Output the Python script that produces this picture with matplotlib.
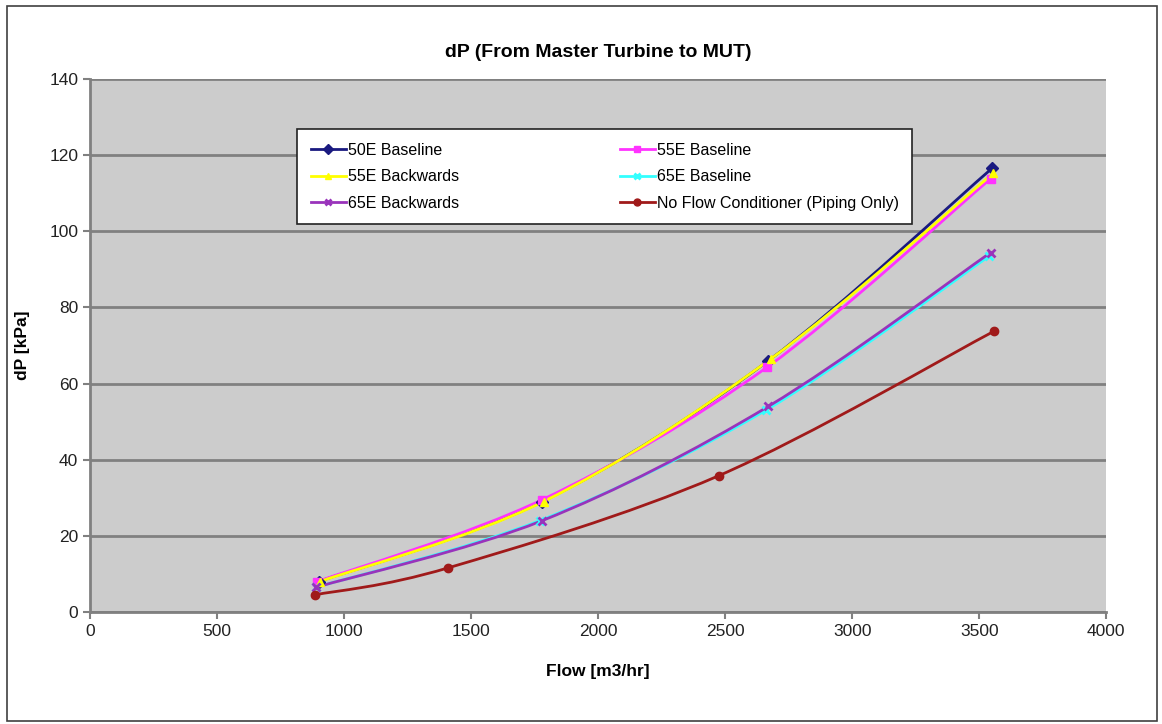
import numpy as np
import matplotlib
matplotlib.use("Agg")
import matplotlib.pyplot as plt
from matplotlib.path import Path
from matplotlib.patches import PathPatch, Rectangle

plt.rcParams['font.family'] = ['Liberation Sans', 'DejaVu Sans']

# data
series_names = ["50E Baseline", "55E Baseline", "55E Backwards", "65E Baseline",
                "65E Backwards", "No Flow Conditioner (Piping Only)"]
flow_50e_base = [900, 1780, 2670, 3550]
dp_50e_base = [8.0, 29.0, 66.0, 116.5]
flow_55e_base = [895, 1780, 2665, 3545]
dp_55e_base = [8.0, 29.5, 64.3, 113.8]
flow_55e_back = [905, 1785, 2680, 3555]
dp_55e_back = [8.0, 29.0, 66.5, 115.2]
flow_65e_base = [890, 1770, 2660, 3540]
dp_65e_base = [6.5, 24.0, 53.0, 93.5]
flow_65e_back = [890, 1780, 2670, 3545]
dp_65e_back = [6.5, 24.0, 54.0, 94.4]
flow_nofc = [885, 1410, 2475, 3560]
dp_nofc = [4.5, 11.6, 35.8, 73.8]

xs = [flow_50e_base, flow_55e_base, flow_55e_back, flow_65e_base, flow_65e_back, flow_nofc]
ys = [dp_50e_base, dp_55e_base, dp_55e_back, dp_65e_base, dp_65e_back, dp_nofc]
colors = ["#1a1a80", "#ff33ff", "#ffff00", "#33ffff", "#9933bb", "#a01a1a"]
markers = ["D", "s", "^", "x", "x", "o"]


def smooth_path(x, y):
    # excel-style smoothed line: catmull-rom segments as cubic bezier
    x = np.asarray(x, float)
    y = np.asarray(y, float)
    verts = [(x[0], y[0])]
    codes = [Path.MOVETO]
    n = len(x)
    for i in range(n - 1):
        p0 = np.array([x[max(i - 1, 0)], y[max(i - 1, 0)]])
        p1 = np.array([x[i], y[i]])
        p2 = np.array([x[i + 1], y[i + 1]])
        p3 = np.array([x[min(i + 2, n - 1)], y[min(i + 2, n - 1)]])
        c1 = p1 + (p2 - p0) / 6.0
        c2 = p2 - (p3 - p1) / 6.0
        verts += [tuple(c1), tuple(c2), tuple(p2)]
        codes += [Path.CURVE4] * 3
    return Path(verts, codes)


fig = plt.figure(figsize=(11.62, 7.24), dpi=100)
fig.patches.append(Rectangle((0.006, 0.004), 0.99, 0.988, transform=fig.transFigure,
                             fill=False, edgecolor="#404040", linewidth=1.2))
ax = fig.add_axes([0.0775, 0.1547, 0.8745, 0.7363])
ax.set_facecolor("#cccccc")

handles = []
for x, y, c, m, name in zip(xs, ys, colors, markers, series_names):
    ax.add_patch(PathPatch(smooth_path(x, y), fill=False, edgecolor=c, linewidth=2, zorder=3))
    ax.plot(x, y, linestyle="none", marker=m, color=c, markersize=6,
            markeredgewidth=2 if m == "x" else 1, zorder=4)
    h, = ax.plot([], [], color=c, marker=m, markersize=5, linewidth=2,
                 markeredgewidth=2 if m == "x" else 1, label=name)
    handles.append(h)

ax.set_xlim(0, 4000)
ax.set_ylim(0, 140)
ax.set_xticks(np.arange(0, 4001, 500))
ax.set_yticks(np.arange(0, 141, 20))
ax.grid(axis="y", color="#808080", linewidth=2)
ax.set_axisbelow(True)
for s in ["top", "right"]:
    ax.spines[s].set_visible(False)
for s in ["left", "bottom"]:
    ax.spines[s].set_color("#808080")
    ax.spines[s].set_linewidth(2)
ax.tick_params(colors="#808080", labelcolor="#222222", labelsize=12.5, length=5, width=1.5)

ax.set_title("dP (From Master Turbine to MUT)", fontsize=14, fontweight="bold", pad=16)
ax.set_xlabel("Flow [m3/hr]", fontsize=12.5, fontweight="bold", labelpad=18)
ax.set_ylabel("dP [kPa]", fontsize=12.5, fontweight="bold", labelpad=14)

# row-wise legend order like the original
order = [0, 2, 4, 1, 3, 5]
leg = ax.legend([handles[i] for i in order], [series_names[i] for i in order],
                ncol=2, loc="upper left", mode="expand",
                bbox_to_anchor=(0.204, 0.737, 0.605, 0.169), fontsize=11.5,
                frameon=True, fancybox=False, edgecolor="#222222", framealpha=1,
                handlelength=2.2, handletextpad=0.1, labelspacing=0.72, borderpad=0.85,
                borderaxespad=0)
leg.get_frame().set_linewidth(1.2)
leg.get_frame().set_facecolor("white")

fig.savefig("out.png", dpi=100, facecolor="white")
